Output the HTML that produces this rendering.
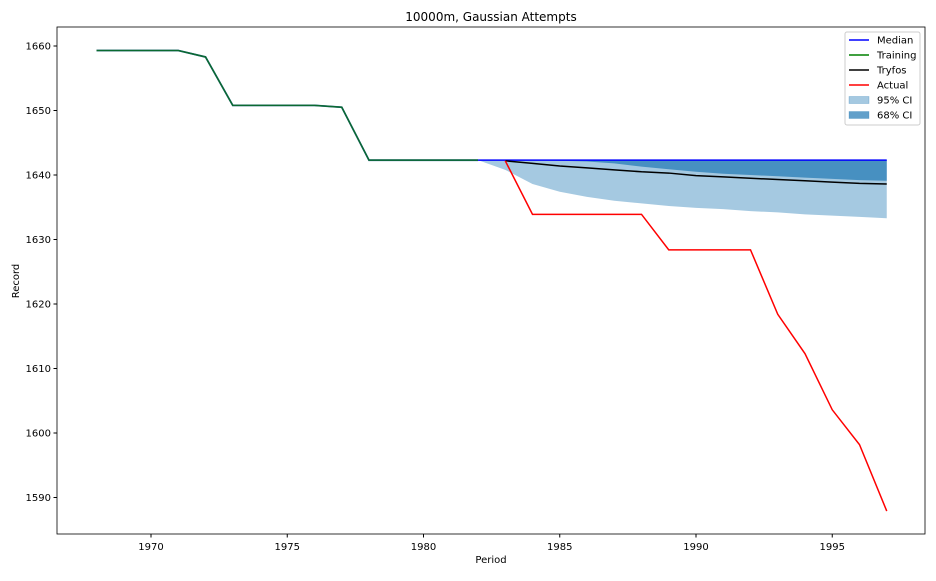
<!DOCTYPE html>
<html><head><meta charset="utf-8"><style>
body{margin:0;background:#fff;font-family:"Liberation Sans","DejaVu Sans",sans-serif}
svg text{font-family:"DejaVu Sans","Liberation Sans",sans-serif}
</style></head><body>
<svg id="chart" width="936" height="576" xmlns="http://www.w3.org/2000/svg">
<rect width="936" height="576" fill="#fff"/>
<g id="plot"></g>
<g id="axes"></g>
<g id="legend"></g>
</svg>
<script>
const trainYears=[1968,1969,1970,1971,1972,1973,1974,1975,1976,1977,1978,1979,1980,1981,1982];
const trainVals=[1659.3,1659.3,1659.3,1659.3,1658.3,1650.8,1650.8,1650.8,1650.8,1650.5,1642.3,1642.3,1642.3,1642.3,1642.3];
const predYears=[1982,1983,1984,1985,1986,1987,1988,1989,1990,1991,1992,1993,1994,1995,1996,1997];
const medianVals=[1642.3,1642.3,1642.3,1642.3,1642.3,1642.3,1642.3,1642.3,1642.3,1642.3,1642.3,1642.3,1642.3,1642.3,1642.3,1642.3];
const ci95Lower=[1642.3,1640.8,1638.6,1637.4,1636.6,1636.0,1635.6,1635.2,1634.9,1634.7,1634.4,1634.2,1633.9,1633.7,1633.5,1633.3];
const ci68Lower=[1642.3,1642.3,1642.3,1642.2,1642.1,1641.8,1641.3,1640.9,1640.5,1640.2,1640.0,1639.8,1639.6,1639.4,1639.2,1639.1];
const tryfosYears=[1983,1984,1985,1986,1987,1988,1989,1990,1991,1992,1993,1994,1995,1996,1997];
const tryfosVals=[1642.2,1641.8,1641.4,1641.1,1640.8,1640.5,1640.3,1639.9,1639.7,1639.5,1639.3,1639.1,1638.9,1638.7,1638.6];
const actualYears=[1983,1984,1985,1986,1987,1988,1989,1990,1991,1992,1993,1994,1995,1996,1997];
const actualVals=[1642.2,1633.9,1633.9,1633.9,1633.9,1633.9,1628.4,1628.4,1628.4,1628.4,1618.4,1612.3,1603.6,1598.2,1587.9];
const xTicks=[1970,1975,1980,1985,1990,1995];
const yTicks=[1590,1600,1610,1620,1630,1640,1650,1660];

const L=57,R=925,T=27,B=534;
const xs=y=>151+(y-1970)*27.25;
const ys=v=>46+(1660-v)*6.45;
const NS="http://www.w3.org/2000/svg";
function mk(tag,attrs,parent,txt){const e=document.createElementNS(NS,tag);for(const k in attrs)e.setAttribute(k,attrs[k]);if(txt!==undefined)e.textContent=txt;parent.appendChild(e);return e;}
const plot=document.getElementById('plot'),axes=document.getElementById('axes'),leg=document.getElementById('legend');
function band(lower,color,alpha,name){
  let d='M'+predYears.map((y,i)=>xs(y)+','+ys(medianVals[i])).join('L');
  for(let i=predYears.length-1;i>=0;i--)d+='L'+xs(predYears[i])+','+ys(lower[i]);
  const p=mk('path',{d:d+'Z',fill:color,'fill-opacity':alpha},plot);
  
  
}
band(ci95Lower,'#1f77b4',0.4,'ci-95-band');
band(ci68Lower,'#1f77b4',0.7,'ci-68-band');
function line(xsArr,vals,color,name,w){
  const p=mk('polyline',{points:xsArr.map((y,i)=>xs(y)+','+ys(vals[i])).join(' '),fill:'none',stroke:color,'stroke-width':w||1.5},plot);
  
  
}
line(trainYears,trainVals,'#3060a0','median-history-line',1.8);
line(predYears,medianVals,'#0000ff','median-line');
line(trainYears,trainVals,'#0a6a30','training-line');
line(tryfosYears,tryfosVals,'#000000','tryfos-line');
line(actualYears,actualVals,'#ff0000','actual-line');
const frame=mk('rect',{x:L,y:T,width:R-L,height:B-T,fill:'none',stroke:'#000','stroke-width':0.8},axes);


xTicks.forEach(t=>{
  mk('line',{x1:xs(t),x2:xs(t),y1:B,y2:B+3.5,stroke:'#000'},axes);
  const e=mk('text',{x:xs(t),y:B+16,'font-size':10,'text-anchor':'middle'},axes,t);
  
  
});
yTicks.forEach(t=>{
  mk('line',{x1:L-3.5,x2:L,y1:ys(t),y2:ys(t),stroke:'#000'},axes);
  const e=mk('text',{x:L-6,y:ys(t)+3.5,'font-size':10,'text-anchor':'end'},axes,t);
  
  
});
let e=mk('text',{x:491,y:21,'font-size':12,'text-anchor':'middle'},axes,'10000m, Gaussian Attempts');

e=mk('text',{x:491,y:563,'font-size':10,'text-anchor':'middle'},axes,'Period');

e=mk('text',{x:19,y:281,'font-size':10,'text-anchor':'middle',transform:'rotate(-90 19 281)'},axes,'Record');

const lb=mk('rect',{x:845,y:32,width:75,height:93,fill:'#fff',stroke:'#ccc',rx:2},leg);

const items=[['Median','#0000ff','l'],['Training','#008000','l'],['Tryfos','#000','l'],['Actual','#ff0000','l'],['95% CI','rgba(31,119,180,0.4)','p'],['68% CI','rgba(31,119,180,0.7)','p']];
items.forEach((it,i)=>{
  const y=40+i*15;
  const g=mk('g',{},leg);
  
  
  if(it[2]==='l')mk('line',{x1:849,x2:869,y1:y,y2:y,stroke:it[1],'stroke-width':1.5},g);
  else mk('rect',{x:849,y:y-3.5,width:20,height:7,fill:it[1],stroke:'#1f77b4','stroke-opacity':0.5,'stroke-width':0.5},g);
  mk('text',{x:877,y:y+3.5,'font-size':10},g,it[0]);
});
</script>
</body></html>
